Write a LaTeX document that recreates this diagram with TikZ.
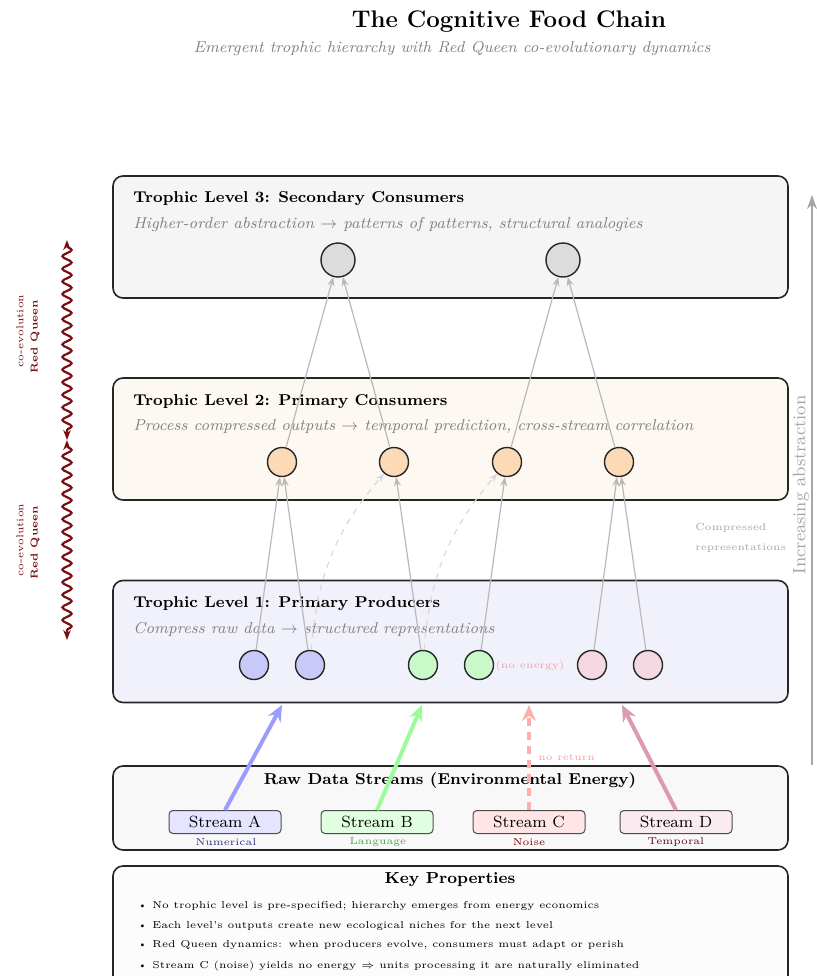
\documentclass[tikz,border=0pt]{standalone}
\usetikzlibrary{arrows.meta,decorations.pathmorphing,positioning}

\definecolor{lthreefill}{HTML}{F5F5F5}
\definecolor{lthreeunit}{HTML}{DCDCDC}
\definecolor{ltwofill}{HTML}{FDF8F1}
\definecolor{ltwounit}{HTML}{FDDAB6}
\definecolor{lonefill}{HTML}{F1F1FC}
\definecolor{unitA}{HTML}{C9C9F9}
\definecolor{unitB}{HTML}{C9F9C9}
\definecolor{unitD}{HTML}{F5D8E2}
\definecolor{rawfill}{HTML}{F8F8F8}
\definecolor{streamA}{HTML}{9C9CFC}
\definecolor{streamB}{HTML}{9CFC9C}
\definecolor{streamC}{HTML}{FCAFAF}
\definecolor{streamD}{HTML}{DC9AAE}
\definecolor{queen}{HTML}{7A0E12}

\begin{document}
\begin{tikzpicture}[x=0.5pt,y=-0.5pt,
  level/.style={draw=black!85, line width=0.8pt, rounded corners=5pt,
    minimum width=337.5pt, minimum height=61pt},
  lvtitle/.style={anchor=west, inner sep=0pt, font=\fontsize{7.85}{10}\selectfont\bfseries},
  lvsub/.style={anchor=west, inner sep=0pt, font=\fontsize{7.9}{10}\selectfont\itshape, text=gray},
  unit/.style={circle, draw=black!85, line width=0.7pt, minimum size=14.5pt, inner sep=0pt},
  feed/.style={draw=gray!55, line width=0.6pt, -{Stealth[length=4.5pt,width=3.5pt]}},
  crossfeed/.style={draw=gray!30, line width=0.6pt, dashed, -{Stealth[length=4.5pt,width=3.5pt]}},
  streambox/.style={draw=black!70, line width=0.5pt, rounded corners=2pt,
    minimum width=56pt, minimum height=11.5pt, inner sep=0pt, font=\fontsize{8.1}{10}\selectfont},
  streamlbl/.style={inner sep=0pt, font=\tiny},
  energy/.style={line width=2pt, -{Stealth[length=8pt,width=7pt]}},
  redq/.style={draw=queen, line width=1.1pt, {Stealth[length=5pt]}-{Stealth[length=5pt]},
    decorate, decoration={snake, amplitude=2.3pt, segment length=6.3pt, pre length=3pt, post length=3pt}},
  note/.style={inner sep=0pt, font=\tiny}
]
\clip (0,0) rectangle (817,976);

% title
\node[font=\large\bfseries] (title) at (509,22) {The Cognitive Food Chain};
\node[font=\fontsize{7.9}{10}\selectfont\itshape, text=gray] (subtitle) at (452,49)
  {Emergent trophic hierarchy with Red Queen co-evolutionary dynamics};

% trophic levels
\node[level, fill=lthreefill] (lev3) at (450.5,237) {};
\node[level, fill=ltwofill] (lev2) at (450.5,439) {};
\node[level, fill=lonefill] (lev1) at (450.5,641.5) {};

\node[lvtitle] (t3) at (133,199) {Trophic Level 3: Secondary Consumers};
\node[lvsub] (d3) at (133,225) {Higher-order abstraction $\rightarrow$ patterns of patterns, structural analogies};
\node[lvtitle] (t2) at (133,402) {Trophic Level 2: Primary Consumers};
\node[lvsub] (d2) at (133,427) {Process compressed outputs $\rightarrow$ temporal prediction, cross-stream correlation};
\node[lvtitle] (t1) at (133,604) {Trophic Level 1: Primary Producers};
\node[lvsub] (d1) at (133,629) {Compress raw data $\rightarrow$ structured representations};

% units
\node[unit, fill=lthreeunit, minimum size=17pt] (s1) at (338,260) {};
\node[unit, fill=lthreeunit, minimum size=17pt] (s2) at (563,260) {};

\node[unit, fill=ltwounit] (c1) at (282,462) {};
\node[unit, fill=ltwounit] (c2) at (394,462) {};
\node[unit, fill=ltwounit] (c3) at (507,462) {};
\node[unit, fill=ltwounit] (c4) at (619,462) {};

\node[unit, fill=unitA] (p1) at (254,665) {};
\node[unit, fill=unitA] (p2) at (310,665) {};
\node[unit, fill=unitB] (p3) at (423,665) {};
\node[unit, fill=unitB] (p4) at (479,665) {};
\node[unit, fill=unitD] (p5) at (592,665) {};
\node[unit, fill=unitD] (p6) at (648,665) {};
\node[note, text=streamC!90!red] (noen) at (530,666) {(no energy)};

% feeding links
\draw[feed] (p1) -- (c1);
\draw[feed] (p2) -- (c1);
\draw[feed] (p3) -- (c2);
\draw[feed] (p4) -- (c3);
\draw[feed] (p5) -- (c4);
\draw[feed] (p6) -- (c4);
\draw[crossfeed] (p2) to[bend left=18] (c2);
\draw[crossfeed] (p3) to[bend left=18] (c3);

\draw[feed] (c1) -- (s1);
\draw[feed] (c2) -- (s1);
\draw[feed] (c3) -- (s2);
\draw[feed] (c4) -- (s2);

\node[note, text=gray!70, align=left, anchor=west] (comp) at (695,538)
  {Compressed\\[4pt]representations};

% raw data streams
\node[level, fill=rawfill, minimum height=42pt] (raw) at (450.5,808) {};
\node[font=\fontsize{7.9}{10}\selectfont\bfseries] (rawt) at (450,781) {Raw Data Streams (Environmental Energy)};

\node[streambox, fill=blue!10] (sA) at (225,822) {Stream A};
\node[streambox, fill=green!12] (sB) at (377,822) {Stream B};
\node[streambox, fill=red!10] (sC) at (529,822) {Stream C};
\node[streambox, fill=purple!8] (sD) at (676,822) {Stream D};

\node[streamlbl, text=blue!40!black!80] (lA) at (226,842) {Numerical};
\node[streamlbl, text=green!50!black!70] (lB) at (378,842) {Language};
\node[streamlbl, text=red!50!black] (lC) at (529,842) {Noise};
\node[streamlbl, text=purple!50!black] (lD) at (676,842) {Temporal};

\coordinate (inA) at (282,705);
\coordinate (inB) at (422,705);
\coordinate (inC) at (529,705);
\coordinate (inD) at (622,705);

\draw[energy, streamA] (sA.north) -- (inA);
\draw[energy, streamB] (sB.north) -- (inB);
\draw[energy, streamC, dash pattern=on 4pt off 3pt] (sC.north) -- (inC);
\draw[energy, streamD] (sD.north) -- (inD);
\node[note, text=streamC!90!red, anchor=west] (noret) at (538,757) {no return};

% red queen co-evolution
\coordinate (rq3) at (67,240);
\coordinate (rq2) at (67,440);
\coordinate (rq1) at (67,640);
\draw[redq] (rq3) -- (rq2);
\draw[redq] (rq2) -- (rq1);
\node[note, rotate=90, text=queen, font=\tiny\bfseries] (rqa) at (35,337) {Red Queen};
\node[note, rotate=90, text=queen] (coa) at (20,331) {co-evolution};
\node[note, rotate=90, text=queen, font=\tiny\bfseries] (rqb) at (35,543) {Red Queen};
\node[note, rotate=90, text=queen] (cob) at (20,540) {co-evolution};

% abstraction axis
\coordinate (axlo) at (812,765);
\coordinate (axhi) at (812,195);
\draw[gray!70, line width=1pt, -{Stealth[length=7pt,width=5pt]}] (axlo) -- (axhi);
\node[rotate=90, font=\small, text=gray!70, inner sep=0pt] (axl) at (801,485) {Increasing abstraction};

% key properties
\node[level, draw=black!85, fill=white!98!gray, minimum height=62pt] (keys) at (450.5,928) {};
\node[font=\fontsize{8}{10}\selectfont\bfseries] (keyt) at (450,880) {Key Properties};
\foreach \y/\txt [count=\i] in {
  906/{No trophic level is pre-specified; hierarchy emerges from energy economics},
  926/{Each level's outputs create new ecological niches for the next level},
  945/{Red Queen dynamics: when producers evolve, consumers must adapt or perish},
  966/{Stream C (noise) yields no energy $\Rightarrow$ units processing it are naturally eliminated}}
  \node[note, anchor=west] (key\i) at (137,\y) {\textbullet\ \txt};

\end{tikzpicture}
\end{document}
